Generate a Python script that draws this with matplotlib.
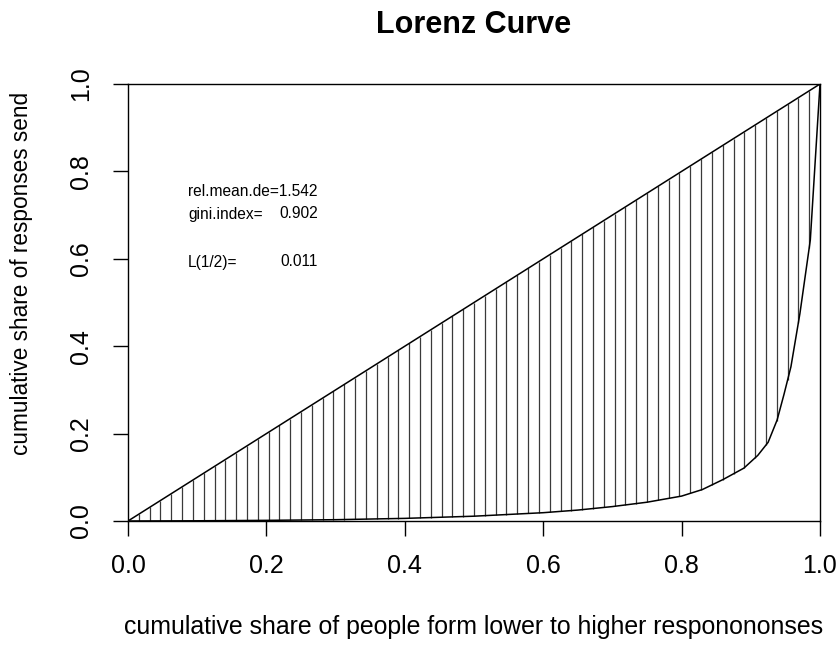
import numpy as np
import matplotlib
matplotlib.use("Agg")
import matplotlib.pyplot as plt

plt.rcParams['font.family'] = ['Liberation Sans', 'DejaVu Sans']

# Lorenz curve: cumulative share of people vs cumulative share of responses
share_people = [0.0, 0.1, 0.2, 0.3, 0.4, 0.5, 0.55, 0.6, 0.65, 0.7, 0.75,
                0.8, 0.83, 0.86, 0.89, 0.91, 0.925, 0.938, 0.948, 0.958,
                0.971, 0.986, 1.0]
share_responses = [0.0, 0.0005, 0.0015, 0.003, 0.006, 0.011, 0.015, 0.019,
                   0.025, 0.033, 0.043, 0.057, 0.072, 0.095, 0.121, 0.15,
                   0.18, 0.231, 0.29, 0.353, 0.475, 0.643, 1.0]

tick_values = [0.0, 0.2, 0.4, 0.6, 0.8, 1.0]
tick_labels = ["0.0", "0.2", "0.4", "0.6", "0.8", "1.0"]

stat_names = ["rel.mean.de=1.542", "gini.index=", "L(1/2)="]
stat_values = ["", "0.902", "0.011"]

n_hatch = 64

fig = plt.figure(figsize=(8.4, 6.46), dpi=100)
W, H = 840, 646
x0, x1, y0, y1 = 128, 820, 84, 521
ax = fig.add_axes([x0 / W, 1 - y1 / H, (x1 - x0) / W, (y1 - y0) / H])

# vertical hatching between the equality line and the Lorenz curve
hx = np.linspace(0, 1, n_hatch + 1)
hy = np.interp(hx, share_people, share_responses)
ax.vlines(hx, hy, hx, colors="#3a3a3a", linewidth=0.9)

ax.plot([0, 1], [0, 1], color="black", linewidth=1.1)
ax.plot(share_people, share_responses, color="black", linewidth=1.1)

ax.set_xlim(0, 1)
ax.set_ylim(0, 1)
ax.set_xticks(tick_values)
ax.set_xticklabels(tick_labels)
ax.set_yticks(tick_values)
ax.set_yticklabels(tick_labels, rotation=90, va="center")
ax.tick_params(direction="out", length=11, width=1, labelsize=18,
               colors="black")
ax.tick_params(axis="x", pad=13)
ax.tick_params(axis="y", pad=14)
for s in ax.spines.values():
    s.set_linewidth(1.0)

ax.set_xlabel("cumulative share of people form lower to higher responononses",
              fontsize=17.9, va="center")
ax.xaxis.set_label_coords(0.5, (y1 - 627) / (y1 - y0))
ax.set_ylabel("cumulative share of responses send", fontsize=16.3,
              va="center")
ax.yaxis.set_label_coords((22 - x0) / (x1 - x0), (y1 - 273) / (y1 - y0))

fig.text(474 / W, 1 - 25 / H, "Lorenz Curve", fontsize=22,
         fontweight="bold", ha="center", va="center")

label_x = (188 - x0) / (x1 - x0)
value_x = (318 - x0) / (x1 - x0)
rows_y = [(y1 - 192) / (y1 - y0), (y1 - 214) / (y1 - y0),
          (y1 - 262) / (y1 - y0)]
for name, val, yy in zip(stat_names, stat_values, rows_y):
    ax.text(label_x, yy, name, fontsize=11.2, ha="left", va="center")
    if val:
        ax.text(value_x, yy, val, fontsize=11.2, ha="right", va="center")

fig.savefig("out.png", dpi=100)
